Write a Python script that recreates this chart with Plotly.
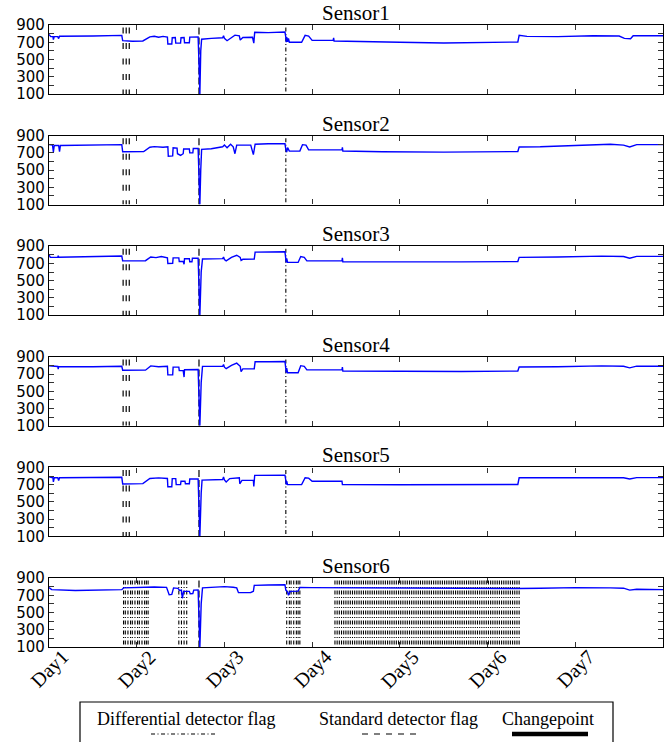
import plotly.graph_objects as go

# ---------------- data ----------------
day_ticks = [0, 1, 2, 3, 4, 5, 6]
day_labels = ["Day1", "Day2", "Day3", "Day4", "Day5", "Day6", "Day7"]
sensor_names = ["Sensor1", "Sensor2", "Sensor3", "Sensor4", "Sensor5", "Sensor6"]
y_tick_vals = [100, 200, 300, 400, 500, 600, 700, 800, 900]
y_tick_text = ["100", "", "300", "", "500", "", "700", "", "900"]

sensor1_day = [0.00, 0.02, 0.045, 0.05, 0.06, 0.10, 0.11, 0.12, 0.50, 0.83, 0.84, 0.95, 1.07, 1.15, 1.20, 1.25,
               1.30, 1.35, 1.355, 1.40, 1.405, 1.44, 1.445, 1.50, 1.505, 1.54, 1.545, 1.60, 1.605, 1.70, 1.715,
               1.72, 1.73, 1.74, 1.85, 1.98, 1.99, 2.00, 2.03, 2.07, 2.12, 2.17, 2.18, 2.21, 2.32, 2.335, 2.345,
               2.50, 2.69, 2.70, 2.705, 2.71, 2.72, 2.73, 2.74, 2.88, 2.92, 2.96, 3.00, 3.24, 3.245, 3.25, 3.60,
               4.00, 4.50, 5.00, 5.345, 5.36, 5.45, 5.80, 6.20, 6.50, 6.56, 6.63, 6.66, 7.00]
sensor1_val = [790, 765, 765, 730, 765, 765, 742, 770, 772, 780, 718, 712, 715, 762, 770, 758,
               768, 760, 680, 680, 752, 755, 690, 690, 752, 755, 695, 695, 760, 762, 300,
               100, 600, 735, 745, 752, 775, 745, 718, 745, 782, 775, 725, 755, 758, 690, 815,
               812, 818, 760, 700, 760, 705, 745, 700, 700, 780, 772, 722, 722, 750, 715, 712,
               700, 692, 700, 703, 780, 768, 765, 775, 772, 745, 740, 775, 775]

sensor2_day = [0.00, 0.02, 0.04, 0.05, 0.06, 0.11, 0.12, 0.13, 0.50, 0.83, 0.84, 1.08, 1.15, 1.20, 1.30,
               1.355, 1.36, 1.41, 1.415, 1.46, 1.465, 1.50, 1.53, 1.535, 1.60, 1.605, 1.64, 1.645, 1.70,
               1.715, 1.72, 1.73, 1.74, 1.85, 1.98, 2.00, 2.03, 2.07, 2.10, 2.12, 2.14, 2.20, 2.30, 2.33,
               2.35, 2.50, 2.69, 2.70, 2.71, 2.72, 2.74, 2.86, 2.89, 2.93, 2.96, 3.34, 3.345, 3.35, 3.80,
               4.50, 5.00, 5.345, 5.36, 5.60, 6.00, 6.40, 6.55, 6.62, 6.70, 7.00]
sensor2_val = [795, 790, 790, 710, 785, 785, 715, 785, 788, 795, 712, 715, 765, 772, 765,
               770, 660, 665, 760, 755, 690, 670, 690, 745, 745, 700, 700, 750, 752,
               300, 100, 500, 740, 748, 770, 790, 760, 800, 770, 690, 790, 790, 790, 680,
               800, 805, 805, 740, 710, 760, 720, 720, 795, 790, 735, 735, 765, 722, 712,
               708, 710, 715, 768, 770, 785, 800, 790, 768, 795, 795]

sensor3_day = [0.00, 0.015, 0.10, 0.105, 0.11, 0.50, 0.83, 0.84, 1.10, 1.16, 1.22, 1.28, 1.35, 1.355, 1.41,
               1.415, 1.48, 1.485, 1.53, 1.54, 1.545, 1.60, 1.605, 1.63, 1.635, 1.70, 1.72, 1.735, 1.75,
               1.98, 1.99, 2.00, 2.02, 2.08, 2.14, 2.18, 2.19, 2.21, 2.34, 2.35, 2.50, 2.69, 2.70, 2.705,
               2.71, 2.72, 2.84, 2.87, 2.91, 2.94, 3.34, 3.345, 3.35, 4.00, 4.70, 5.345, 5.36, 5.80, 6.30,
               6.55, 6.62, 6.70, 7.00]
sensor3_val = [800, 770, 772, 790, 772, 778, 786, 730, 732, 775, 768, 780, 765, 700, 702,
               765, 765, 722, 722, 690, 755, 755, 720, 720, 760, 760, 100, 600, 752,
               756, 775, 745, 730, 770, 795, 770, 735, 748, 750, 832, 832, 835, 750, 712,
               760, 712, 712, 780, 770, 730, 730, 765, 718, 715, 718, 722, 770, 775, 785,
               780, 760, 782, 782]

sensor4_day = [0.00, 0.05, 0.10, 0.105, 0.11, 0.50, 0.83, 0.84, 1.10, 1.16, 1.25, 1.35, 1.355, 1.41, 1.415,
               1.48, 1.485, 1.53, 1.54, 1.545, 1.70, 1.72, 1.735, 1.75, 1.98, 1.99, 2.00, 2.02, 2.08, 2.14,
               2.18, 2.19, 2.21, 2.34, 2.35, 2.50, 2.69, 2.70, 2.705, 2.71, 2.72, 2.84, 2.87, 2.91, 2.94,
               3.34, 3.345, 3.35, 4.00, 4.70, 5.345, 5.36, 5.80, 6.30, 6.55, 6.62, 6.70, 7.00]
sensor4_val = [797, 790, 788, 757, 788, 785, 790, 744, 745, 795, 785, 790, 690, 690, 780,
               780, 740, 740, 665, 750, 752, 100, 600, 789, 790, 810, 780, 762, 800, 826,
               790, 728, 760, 762, 843, 842, 845, 760, 715, 770, 715, 715, 797, 790, 748,
               748, 780, 735, 730, 730, 735, 782, 785, 795, 790, 772, 792, 790]

sensor5_day = [0.00, 0.045, 0.05, 0.06, 0.10, 0.11, 0.12, 0.50, 0.83, 0.84, 1.07, 1.15, 1.25, 1.35, 1.355,
               1.40, 1.405, 1.445, 1.45, 1.50, 1.505, 1.55, 1.555, 1.60, 1.605, 1.70, 1.72, 1.735, 1.745,
               1.98, 1.99, 2.00, 2.02, 2.06, 2.12, 2.17, 2.175, 2.20, 2.33, 2.335, 2.345, 2.50, 2.69, 2.70,
               2.705, 2.71, 2.72, 2.88, 2.92, 2.96, 3.00, 3.34, 3.345, 4.00, 4.70, 5.345, 5.36, 5.80, 6.30,
               6.55, 6.62, 6.70, 7.00]
sensor5_val = [792, 780, 732, 780, 780, 748, 780, 782, 785, 708, 712, 772, 778, 772, 676,
               676, 770, 770, 700, 700, 740, 740, 710, 710, 765, 765, 100, 600, 752,
               760, 790, 755, 730, 770, 780, 780, 710, 750, 750, 680, 808, 808, 810, 750,
               700, 740, 700, 700, 780, 775, 740, 740, 700, 698, 700, 702, 780, 778, 782,
               780, 765, 782, 782]

sensor6_day = [0.00, 0.03, 0.30, 0.60, 0.83, 0.85, 1.00, 1.20, 1.34, 1.37, 1.40, 1.42, 1.47, 1.49, 1.51,
               1.52, 1.535, 1.60, 1.61, 1.64, 1.65, 1.70, 1.72, 1.735, 1.75, 1.90, 2.00, 2.10, 2.14, 2.16,
               2.30, 2.33, 2.34, 2.50, 2.69, 2.70, 2.72, 2.73, 2.75, 2.84, 2.86, 3.00, 3.50, 4.00, 4.50,
               5.00, 5.35, 5.60, 6.00, 6.40, 6.55, 6.62, 6.70, 7.00]
sensor6_val = [790, 765, 755, 758, 765, 785, 792, 795, 792, 705, 710, 785, 780, 755, 760,
               665, 745, 745, 718, 720, 760, 762, 100, 600, 785, 790, 800, 792, 785, 730,
               732, 745, 815, 818, 822, 760, 740, 700, 745, 748, 790, 788, 785, 782, 778,
               775, 778, 782, 788, 785, 782, 760, 770, 765]

# flags (day positions)
standard_flags_main = [0.845, 0.88, 0.915]
standard_flags_spike = [1.71]
differential_flags_main = [2.70]
sensor6_standard_flags = [1.71]
sensor6_differential_flags = [
    0.85, 0.87, 0.90, 0.93, 0.95, 0.98, 1.01, 1.03, 1.06, 1.09, 1.11, 1.13,
    1.48, 1.51, 1.54, 1.57,
    2.71, 2.74, 2.76, 2.79, 2.82, 2.84, 2.86,
    3.26, 3.285, 3.31, 3.335, 3.36, 3.385, 3.41, 3.435, 3.46, 3.485, 3.51, 3.535, 3.56, 3.585,
    3.61, 3.635, 3.66, 3.685, 3.71, 3.735, 3.76, 3.785, 3.81, 3.835, 3.86, 3.885, 3.91, 3.935,
    3.96, 3.985, 4.01, 4.035, 4.06, 4.085, 4.11, 4.135, 4.16, 4.185, 4.21, 4.235, 4.26, 4.285,
    4.31, 4.335, 4.36, 4.385, 4.41, 4.435, 4.46, 4.485, 4.51, 4.535, 4.56, 4.585, 4.61, 4.635,
    4.66, 4.685, 4.71, 4.735, 4.76, 4.785, 4.81, 4.835, 4.86, 4.885, 4.91, 4.935, 4.96, 4.985,
    5.01, 5.035, 5.06, 5.085, 5.11, 5.135, 5.16, 5.185, 5.21, 5.235, 5.26, 5.285, 5.31, 5.335, 5.36]

sensor_days = [sensor1_day, sensor2_day, sensor3_day, sensor4_day, sensor5_day, sensor6_day]
sensor_vals = [sensor1_val, sensor2_val, sensor3_val, sensor4_val, sensor5_val, sensor6_val]

# ---------------- style / layout ----------------
W, H = 672, 742
ML, MR, MT, MB = 49, 9, 25, 95
PW, PH = W - ML - MR, H - MT - MB
PANEL_TOP = [25, 135.6, 246.2, 356.8, 467.4, 578]
PANEL_H = 69
FLAG_TOP, FLAG_BOT = 870, 100

STD_DASH = "6px,9.5px"
SPIKE_DASH = "7px,3px"
DIFF_DASH = "4px,2.5px,1px,2.5px"

SERIF = "Liberation Serif, Times New Roman, serif"
SANS = "DejaVu Sans, sans-serif"


def py(px):
    return (H - MB - px) / PH


def px_x(px):
    return (px - ML) / PW


def vlines(xs, y0, y1):
    X, Y = [], []
    for x in xs:
        X += [x, x, None]
        Y += [y0, y1, None]
    return X, Y


fig = go.Figure()

for i in range(6):
    ax = "" if i == 0 else str(i + 1)
    xref, yref = "x" + ax, "y" + ax
    if i < 5:
        groups = [(standard_flags_main, STD_DASH, 1.2),
                  (standard_flags_spike, SPIKE_DASH, 1.2),
                  (differential_flags_main, DIFF_DASH, 1.1)]
    else:
        groups = [(sensor6_differential_flags, DIFF_DASH, 1.1),
                  (sensor6_standard_flags, SPIKE_DASH, 1.2)]
    for xs, dash, w in groups:
        X, Y = vlines(xs, FLAG_TOP, FLAG_BOT)
        fig.add_trace(go.Scatter(x=X, y=Y, mode="lines", xaxis=xref, yaxis=yref,
                                 line=dict(color="black", width=w, dash=dash),
                                 showlegend=False, hoverinfo="skip"))
    fig.add_trace(go.Scatter(x=sensor_days[i], y=sensor_vals[i], mode="lines",
                             xaxis=xref, yaxis=yref, line=dict(color="#0000ff", width=1.4),
                             showlegend=False, name=sensor_names[i]))

    top = PANEL_TOP[i]
    dom = [py(top + PANEL_H), py(top)]
    fig.layout["xaxis" + ax] = dict(
        domain=[0, 1], anchor=yref, range=[0, 7], tickmode="array", tickvals=day_ticks,
        showticklabels=False,
        ticks="inside", ticklen=5, tickwidth=1, tickcolor="#333", mirror="ticks",
        showline=True, linecolor="black", linewidth=1.3, showgrid=False, zeroline=False)
    fig.layout["yaxis" + ax] = dict(
        domain=dom, anchor=xref, range=[100, 900], tickmode="array", tickvals=y_tick_vals,
        ticktext=y_tick_text, ticks="inside", ticklen=5, tickwidth=1, tickcolor="#333",
        mirror="ticks", showline=True, linecolor="black", linewidth=1.3, showgrid=False,
        zeroline=False, tickfont=dict(family=SANS, size=15, color="black"))
    fig.add_annotation(text=sensor_names[i], xref="paper", yref="paper", x=0.5, y=dom[1],
                       xanchor="center", yanchor="middle", showarrow=False, yshift=12,
                       font=dict(family=SERIF, size=21, color="black"))

# rotated day labels centred on their ticks (bottom panel)
for d, lab in zip(day_ticks, day_labels):
    fig.add_annotation(text=lab, xref="x6", yref="paper", x=d, y=py(669),
                       xanchor="center", yanchor="middle", showarrow=False, textangle=-45,
                       font=dict(family=SERIF, size=20, color="black"))

# ---------------- legend (drawn manually) ----------------
fig.add_shape(type="rect", xref="paper", yref="paper", x0=px_x(80), x1=px_x(613),
              y0=py(770), y1=py(702), line=dict(color="black", width=1.2), fillcolor="white",
              layer="above")
legend_items = [("Differential detector flag", 186, 151, 216, DIFF_DASH, 1.2),
                ("Standard detector flag", 398, 362, 420, "6px,6px", 1.2),
                ("Changepoint", 548, 512, 588, "solid", 4.5)]
for label, cx, lx0, lx1, dash, w in legend_items:
    fig.add_annotation(text=label, xref="paper", yref="paper", x=px_x(cx), y=py(719),
                       xanchor="center", yanchor="middle", showarrow=False,
                       font=dict(family=SERIF, size=18, color="black"))
    fig.add_shape(type="line", xref="paper", yref="paper", x0=px_x(lx0), x1=px_x(lx1),
                  y0=py(734), y1=py(734), line=dict(color="black", width=w, dash=dash))

fig.update_layout(width=W, height=H, margin=dict(l=ML, r=MR, t=MT, b=MB),
                  paper_bgcolor="white", plot_bgcolor="white", showlegend=False)

fig.write_html("out.html", config={"displayModeBar": False},
               post_script="document.body.style.margin='0';document.body.style.overflow='hidden';")
